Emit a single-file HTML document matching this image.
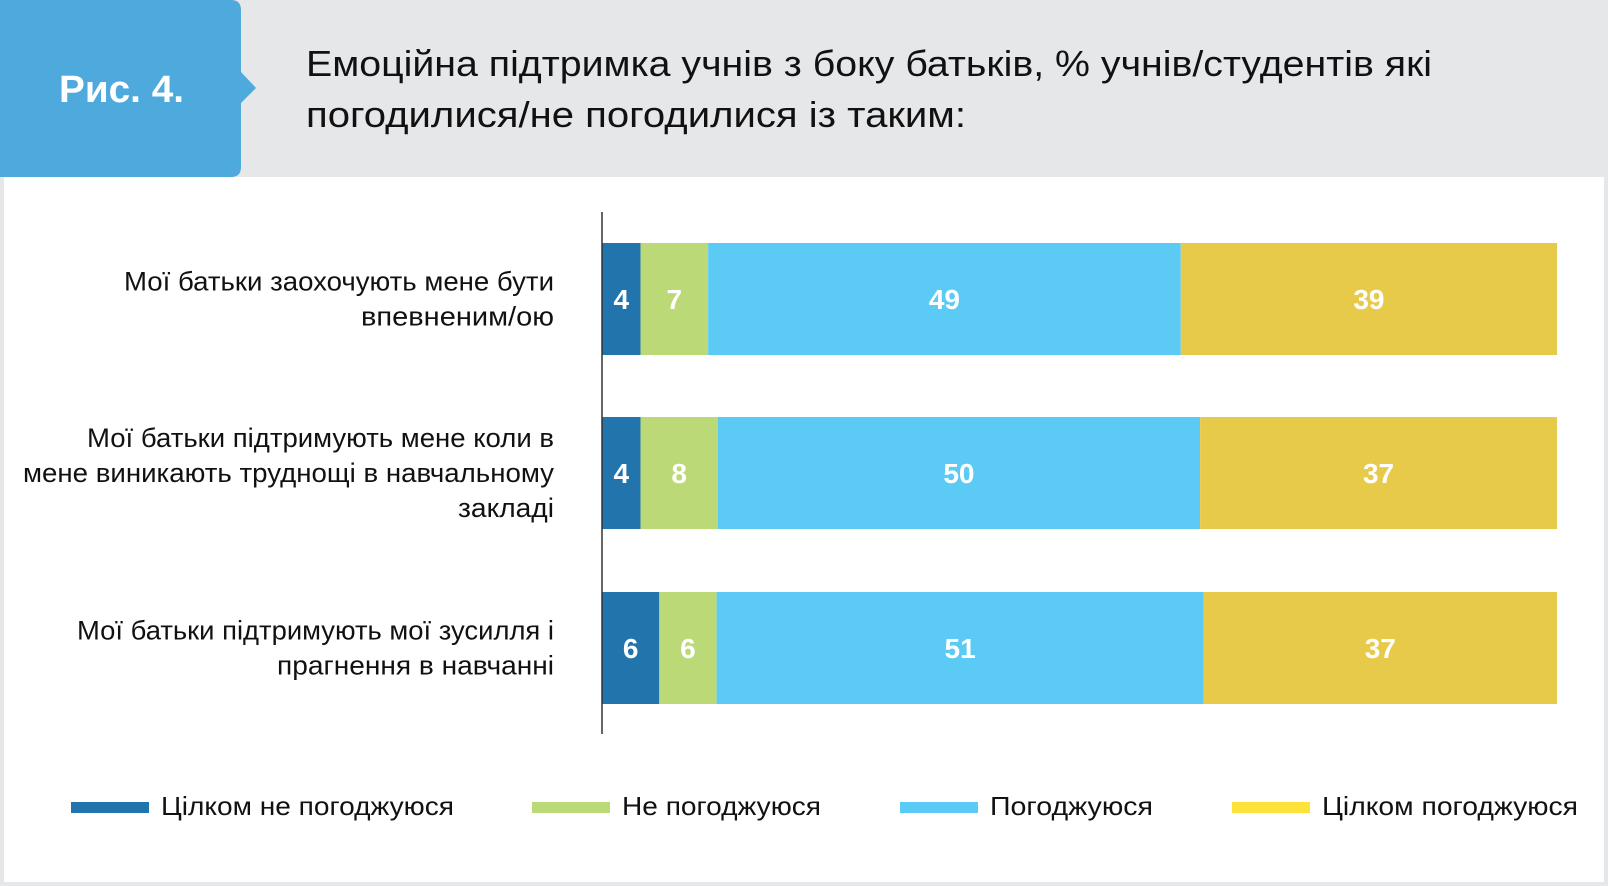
<!DOCTYPE html>
<html><head><meta charset="utf-8"><style>
html,body{margin:0;padding:0;background:#fff;}
svg{display:block;font-family:"Liberation Sans","DejaVu Sans",sans-serif;}
</style></head><body>
<svg id="chart" width="1608" height="886" viewBox="0 0 1608 886" xmlns="http://www.w3.org/2000/svg">
  <rect x="0" y="0" width="1608" height="886" fill="#e6e7e9"/>
  <rect x="4" y="177" width="1600" height="705" fill="#ffffff"/>
  <path d="M0 0 H231 Q241 0 241 10 V72 L256 88 L241 103 V167 Q241 177 231 177 H0 Z" fill="#4ea9dd"/>
  <text x="59" y="102" font-size="38" font-weight="bold" fill="#ffffff" textLength="125" lengthAdjust="spacingAndGlyphs">Рис. 4.</text>
  <text x="306" y="76" font-size="36" fill="#111" textLength="1126" lengthAdjust="spacingAndGlyphs">Емоційна підтримка учнів з боку батьків, % учнів/студентів які</text>
  <text x="306" y="127" font-size="36" fill="#111" textLength="660" lengthAdjust="spacingAndGlyphs">погодилися/не погодилися із таким:</text>
  <g id="bars"></g>
  <line x1="602" y1="212" x2="602" y2="734" stroke="#333" stroke-width="1.5"/>
  <g id="legend"></g>
</svg>
<script>
const categories = [
  ["Мої батьки заохочують мене бути","впевненим/ою"],
  ["Мої батьки підтримують мене коли в","мене виникають труднощі в навчальному","закладі"],
  ["Мої батьки підтримують мої зусилля і","прагнення в навчанні"]
];
const stronglyDisagree = [4, 4, 6];
const disagree = [7, 8, 6];
const agree = [49, 50, 51];
const stronglyAgree = [39, 37, 37];
const seriesNames = ["Цілком не погоджуюся","Не погоджуюся","Погоджуюся","Цілком погоджуюся"];

const NS = "http://www.w3.org/2000/svg";
const colors = ["#2274ad","#bcd977","#5bcbf5","#e8ca4a"];
const legendColors = ["#2274ad","#bcd977","#5bcbf5","#fde23a"];
const series = [stronglyDisagree, disagree, agree, stronglyAgree];
const labelWidths = [[430, 193], [467, 531, 96], [477, 277]];
const x0 = 602, x1 = 1557;
const rowTop = [243, 417, 592], barH = 112;
function mk(tag, attrs, parent){ const e = document.createElementNS(NS, tag); for (const k in attrs) e.setAttribute(k, attrs[k]); parent.appendChild(e); return e; }
const bars = document.getElementById('bars');
categories.forEach((lines, i) => {
  const total = series.reduce((s, a) => s + a[i], 0);
  let acc = 0;
  const y = rowTop[i];
  series.forEach((arr, j) => {
    const v = arr[i];
    const xa = x0 + (x1 - x0) * acc / total;
    const xb = x0 + (x1 - x0) * (acc + v) / total;
    const r = mk('rect', {x: xa, y: y, width: xb - xa, height: barH, fill: colors[j]}, bars);
    
    
    const t = mk('text', {x: (xa + xb) / 2, y: y + barH / 2 + 10, 'font-size': 28, 'font-weight': 'bold', fill: '#fff', 'text-anchor': 'middle'}, bars);
    t.textContent = v;
    
    
    acc += v;
  });
  const lh = 35;
  const cy = y + barH / 2;
  const startY = cy - (lines.length - 1) * lh / 2 + 9;
  lines.forEach((ln, k) => {
    const t = mk('text', {x: 554, y: startY + k * lh, 'font-size': 27, fill: '#111', 'text-anchor': 'end', textLength: labelWidths[i][k], lengthAdjust: 'spacingAndGlyphs'}, bars);
    t.textContent = ln;
    
    
  });
});
const legend = document.getElementById('legend');
const lgX = [71, 532, 900, 1232], lgTextW = [293, 199, 163, 256];
seriesNames.forEach((n, j) => {
  const r = mk('rect', {x: lgX[j], y: 802, width: 78, height: 11, fill: legendColors[j]}, legend);
  
  
  const t = mk('text', {x: lgX[j] + 90, y: 815, 'font-size': 26, fill: '#111', textLength: lgTextW[j], lengthAdjust: 'spacingAndGlyphs'}, legend);
  t.textContent = n;
  
  
});
</script>
</body></html>
